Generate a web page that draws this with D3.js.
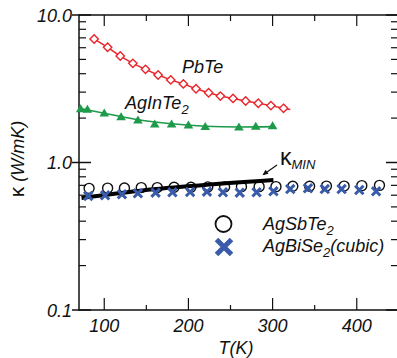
<!DOCTYPE html>
<meta charset="utf-8">
<style>
body { margin: 0; background: #fff; }
text { font-family: "Liberation Sans", Arial, sans-serif; font-style: italic; font-size: 18px; fill: #111; }
</style>
<body>
<script src="https://d3js.org/d3.v7.min.js"></script>
<script>

// PbTe (red diamonds)
var pbteT = [88, 104, 119, 134, 149, 164, 179, 194, 209, 224, 238, 253, 268, 283, 298, 313];
var pbteK = [6.88, 6.04, 5.27, 4.70, 4.28, 3.92, 3.63, 3.41, 3.16, 2.97, 2.82, 2.72, 2.61, 2.52, 2.43, 2.33];
var pbteLineT = pbteT.concat([321]);
var pbteLineK = pbteK.concat([2.29]);

// AgInTe2 (green triangles) and its fit
var aginT = [72, 80, 100, 120, 140, 160, 180, 200, 220, 260, 280, 300];
var aginK = [2.31, 2.29, 2.16, 2.04, 1.94, 1.82, 1.82, 1.79, 1.75, 1.74, 1.76, 1.77];
var aginFitT = [70, 100, 140, 180, 220, 260, 300];
var aginFitK = [2.33, 2.16, 1.95, 1.83, 1.76, 1.74, 1.75];

// AgSbTe2 (open circles)
var agsbT = [82, 104, 124, 144, 163, 183, 203, 223, 243, 263, 284, 304, 324, 344, 364, 385, 406, 427];
var agsbK = [0.668, 0.67, 0.672, 0.676, 0.676, 0.68, 0.68, 0.683, 0.683, 0.686, 0.686, 0.686, 0.69, 0.69, 0.692, 0.692, 0.697, 0.70];

// AgBiSe2 cubic (blue crosses)
var agbiT = [81, 101, 121, 140, 161, 181, 202, 222, 241, 261, 281, 301, 321, 342, 362, 382, 403, 423];
var agbiK = [0.593, 0.599, 0.609, 0.618, 0.624, 0.628, 0.631, 0.634, 0.628, 0.624, 0.628, 0.638, 0.661, 0.668, 0.661, 0.661, 0.651, 0.638];

// kappa_min
var kminT = [73, 140, 204, 301];
var kminK = [0.574, 0.641, 0.693, 0.761];

var xTicks = [100, 200, 300, 400];
var xMinor = [150, 250, 350];
var yTicks = [0.1, 1, 10];
var yTickLabels = ["0.1", "1.0", "10.0"];

var width = 397, height = 358;
var mLeft = 79, mRight = 398, mTop = 15, mBottom = 310;

var svg = d3.select("body").append("svg")
	.attr("width", width)
	.attr("height", height);

var x = d3.scaleLinear().domain([70, 449]).range([mLeft, mRight]);
var y = d3.scaleLog().domain([0.1, 10]).range([mBottom, mTop]);

var yMinor = [];
[0.1, 1].forEach(function(d) {
	for (var k = 2; k <= 9; k++) yMinor.push(d * k);
});

var axes = svg.append("g").attr("stroke", "#111").attr("fill", "none");

// frame
axes.append("path")
	.attr("stroke-width", 1.5)
	.attr("d", "M" + mLeft + "," + mTop + "H" + mRight + "V" + mBottom + "H" + mLeft + "Z");

// x ticks (inward on bottom and top)
xTicks.forEach(function(t) {
	axes.append("line").attr("x1", x(t)).attr("x2", x(t)).attr("y1", mBottom).attr("y2", mBottom - 12).attr("stroke-width", 1.2);
	axes.append("line").attr("x1", x(t)).attr("x2", x(t)).attr("y1", mTop).attr("y2", mTop + 11).attr("stroke-width", 1.2);
});
xMinor.forEach(function(t) {
	axes.append("line").attr("x1", x(t)).attr("x2", x(t)).attr("y1", mBottom).attr("y2", mBottom - 5).attr("stroke-width", 1.2);
	axes.append("line").attr("x1", x(t)).attr("x2", x(t)).attr("y1", mTop).attr("y2", mTop + 6).attr("stroke-width", 1.2);
});

// y ticks
yMinor.forEach(function(v) {
	axes.append("line").attr("x1", mLeft).attr("x2", mLeft + 7).attr("y1", y(v)).attr("y2", y(v)).attr("stroke-width", 1.2);
	axes.append("line").attr("x1", mRight).attr("x2", mRight - 7).attr("y1", y(v)).attr("y2", y(v)).attr("stroke-width", 1.2);
});
yTicks.forEach(function(v) {
	axes.append("line").attr("x1", mLeft - 7).attr("x2", mLeft + 12).attr("y1", y(v)).attr("y2", y(v)).attr("stroke-width", 1.5);
	axes.append("line").attr("x1", mRight).attr("x2", mRight - 12).attr("y1", y(v)).attr("y2", y(v)).attr("stroke-width", 1.5);
});

// tick labels
svg.selectAll(".xl").data(xTicks).enter().append("text")
	.attr("x", function(d) { return x(d); })
	.attr("y", 332)
	.attr("text-anchor", "middle")
	.text(function(d) { return d; });

svg.selectAll(".yl").data(yTicks).enter().append("text")
	.attr("x", 72)
	.attr("y", function(d) { return y(d) + 6.5; })
	.attr("text-anchor", "end")
	.text(function(d, i) { return yTickLabels[i]; });

// axis titles
svg.append("text").attr("x", 236).attr("y", 354).attr("text-anchor", "middle").text("T(K)");
var yl = svg.append("text")
	.attr("transform", "translate(24,159) rotate(-90)")
	.attr("text-anchor", "middle");
yl.append("tspan").style("font-style", "normal").style("font-size", "21px").text("\u03ba");
yl.append("tspan").text(" (W/mK)");

var line = d3.line()
	.x(function(d) { return x(d[0]); })
	.y(function(d) { return y(d[1]); });

// PbTe
svg.append("path")
	.datum(d3.zip(pbteLineT, pbteLineK))
	.attr("fill", "none").attr("stroke", "#e8262b").attr("stroke-width", 1.5)
	.attr("d", line);
svg.selectAll(".pb").data(d3.zip(pbteT, pbteK)).enter().append("path")
	.attr("transform", function(d) { return "translate(" + x(d[0]) + "," + y(d[1]) + ")"; })
	.attr("d", "M0,-4.2L4.2,0L0,4.2L-4.2,0Z")
	.attr("fill", "#fff").attr("stroke", "#e8262b").attr("stroke-width", 1.4);

// AgInTe2
svg.append("path")
	.datum(d3.zip(aginFitT, aginFitK))
	.attr("fill", "none").attr("stroke", "#1d9a4a").attr("stroke-width", 1.6)
	.attr("d", line.curve(d3.curveMonotoneX));
line.curve(d3.curveLinear);
svg.selectAll(".ag").data(d3.zip(aginT, aginK)).enter().append("path")
	.attr("transform", function(d) { return "translate(" + x(d[0]) + "," + y(d[1]) + ")"; })
	.attr("d", "M0,-4.6L4.8,3.4L-4.8,3.4Z")
	.attr("fill", "#1d9a4a");

// AgSbTe2 circles
svg.selectAll(".sb").data(d3.zip(agsbT, agsbK)).enter().append("circle")
	.attr("cx", function(d) { return x(d[0]); })
	.attr("cy", function(d) { return y(d[1]); })
	.attr("r", 5)
	.attr("fill", "none").attr("stroke", "#111").attr("stroke-width", 1.4);

// kappa min
svg.append("path")
	.datum(d3.zip(kminT, kminK))
	.attr("fill", "none").attr("stroke", "#000").attr("stroke-width", 4)
	.attr("d", line.curve(d3.curveMonotoneX));

// AgBiSe2 crosses
function cross(s) {
	return "M" + (-s) + "," + (-s) + "L" + s + "," + s + "M" + s + "," + (-s) + "L" + (-s) + "," + s;
}
svg.selectAll(".bi").data(d3.zip(agbiT, agbiK)).enter().append("path")
	.attr("transform", function(d) { return "translate(" + x(d[0]) + "," + y(d[1]) + ")"; })
	.attr("d", cross(4.2))
	.attr("fill", "none").attr("stroke", "#3a5ba9").attr("stroke-width", 3);

// labels
var pl = svg.append("text").attr("x", 182).attr("y", 73).text("PbTe");
var al = svg.append("text").attr("x", 125).attr("y", 109);
al.append("tspan").text("AgInTe");
al.append("tspan").attr("dy", 5).style("font-size", "13px").text("2");

// kappa_min label and arrow
var kl = svg.append("text").attr("x", 280).attr("y", 165);
kl.append("tspan").style("font-style", "normal").style("font-size", "23px").text("\u03ba");
kl.append("tspan").attr("dy", 4).style("font-size", "13px").text("MIN");
svg.append("line")
	.attr("x1", 277).attr("y1", 165).attr("x2", 263.5).attr("y2", 174.5)
	.attr("stroke", "#111").attr("stroke-width", 1.2);
svg.append("path")
	.attr("d", "M262.5,175.2L265.5,169.8L268.5,173.8Z")
	.attr("fill", "#111");

// legend
svg.append("circle").attr("cx", 223.5).attr("cy", 224).attr("r", 8)
	.attr("fill", "none").attr("stroke", "#111").attr("stroke-width", 1.8);
svg.append("path").attr("transform", "translate(224,247)").attr("d", cross(7.5))
	.attr("fill", "none").attr("stroke", "#3a5ba9").attr("stroke-width", 5);
var l1 = svg.append("text").attr("x", 263).attr("y", 230);
l1.append("tspan").text("AgSbTe");
l1.append("tspan").attr("dy", 5).style("font-size", "13px").text("2");
var l2 = svg.append("text").attr("x", 263).attr("y", 252);
l2.append("tspan").text("AgBiSe");
l2.append("tspan").attr("dy", 5).style("font-size", "13px").text("2");
l2.append("tspan").attr("dy", -5).text("(cubic)");

</script>
</body>
</html>
